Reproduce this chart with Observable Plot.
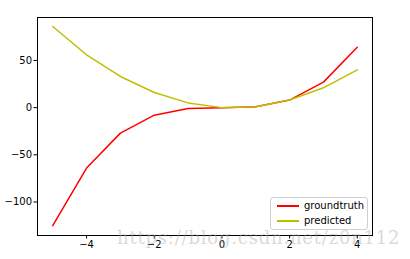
<!DOCTYPE html>
<html><head><meta charset="utf-8">
<script src="https://cdn.jsdelivr.net/npm/d3@7"></script>
<script src="https://cdn.jsdelivr.net/npm/@observablehq/plot@0.6"></script>
<style>
html,body{margin:0;padding:0;background:#fff;}
#wrap{position:relative;width:410px;height:259px;font-family:"DejaVu Sans",sans-serif;overflow:hidden;}
#legend{position:absolute;left:270px;top:197px;width:96px;height:31px;border:1px solid #d0d0d0;border-radius:3px;background:rgba(255,255,255,0.8);font-size:10px;color:#000;}
.row{position:absolute;left:0;height:14px;line-height:14px;}
.sw{position:absolute;left:6px;top:6px;width:22px;height:2px;}
.lb{position:absolute;left:33px;top:0;white-space:nowrap;}
#wm{position:absolute;left:117px;top:227px;font-family:"DejaVu Serif",serif;font-size:18px;letter-spacing:0.8px;color:rgba(170,170,170,0.45);white-space:nowrap;}
</style>
</head><body>
<div id="wrap"></div>
<script>
const xs = [-5, -4, -3, -2, -1, 0, 1, 2, 3, 4];
const groundtruth = [-125, -64, -27, -8, -1, 0, 1, 8, 27, 64];
const predicted = [86, 56, 33, 16, 5, 0, 1, 8, 21, 40];
const seriesNames = ["groundtruth", "predicted"];
const seriesColors = ["#ff0000", "#bfbf00"];
const xTicks = [-4, -2, 0, 2, 4];
const yTicks = [-100, -50, 0, 50];
const watermark = "https://blog.csdn.net/z0n112";

const rows = [];
xs.forEach((x, i) => rows.push({x, y: groundtruth[i], s: seriesNames[0]}));
xs.forEach((x, i) => rows.push({x, y: predicted[i], s: seriesNames[1]}));
const fmt = d => String(d).replace("-", "\u2212");

const chart = Plot.plot({
  width: 410, height: 259,
  marginLeft: 37, marginRight: 38, marginTop: 17, marginBottom: 24,
  style: {fontFamily: "DejaVu Sans, sans-serif", fontSize: "10px", color: "#000", background: "#fff"},
  x: {domain: [-5.45, 4.45]},
  y: {domain: [-135.5, 95.5]},
  color: {domain: seriesNames, range: seriesColors},
  marks: [
    Plot.axisX({ticks: xTicks, tickSize: 3.5, tickPadding: 2, label: null, tickFormat: fmt}),
    Plot.axisY({ticks: yTicks, tickSize: 3.5, tickPadding: 2, label: null, tickFormat: fmt}),
    Plot.line(rows, {x: "x", y: "y", z: "s", stroke: "s", strokeWidth: 1.5}),
    Plot.frame({stroke: "#000", strokeWidth: 1})
  ]
});
const wrap = document.getElementById("wrap");
wrap.appendChild(chart);

const wm = document.createElement("div");
wm.id = "wm"; wm.textContent = watermark;
wrap.appendChild(wm);

const lg = document.createElement("div");
lg.id = "legend";
seriesNames.forEach((n, i) => {
  const r = document.createElement("div");
  r.className = "row"; r.style.top = (1 + i * 15) + "px"; r.style.width = "100%";
  const sw = document.createElement("div"); sw.className = "sw"; sw.style.background = seriesColors[i];
  const lb = document.createElement("div"); lb.className = "lb"; lb.textContent = n;
  r.appendChild(sw); r.appendChild(lb); lg.appendChild(r);
});
wrap.appendChild(lg);
</script>
</body></html>
